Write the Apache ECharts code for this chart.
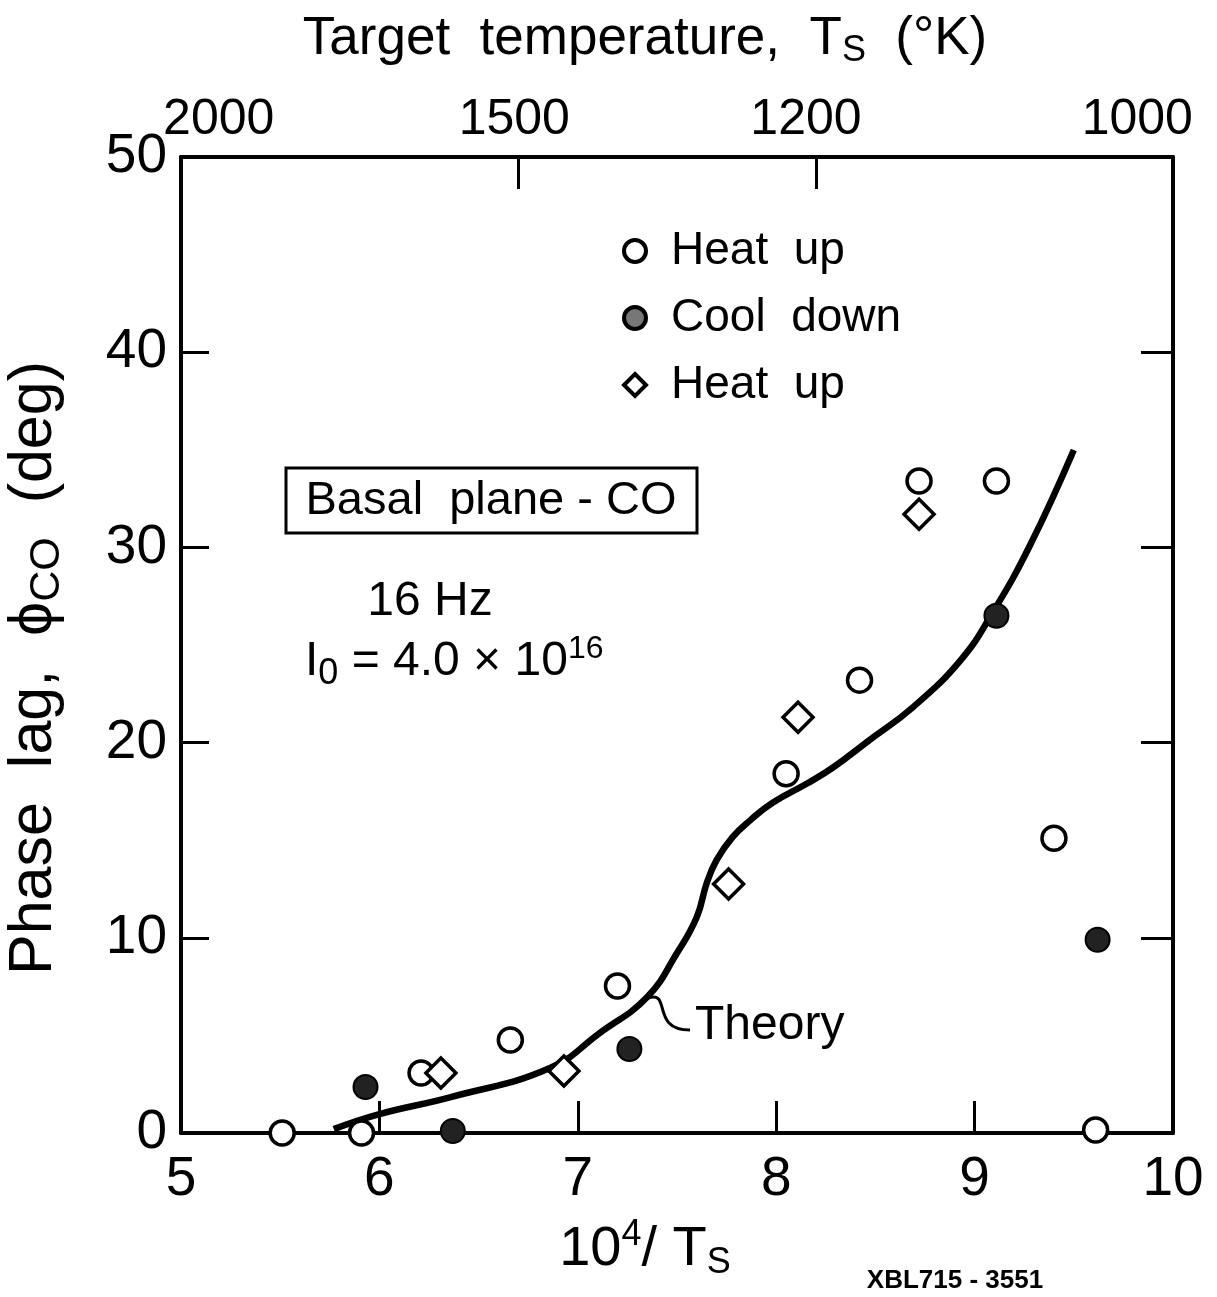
<!DOCTYPE html>
<html><head><meta charset="utf-8">
<script src="https://cdn.jsdelivr.net/npm/echarts@6/dist/echarts.min.js"></script>
<style>html,body{margin:0;padding:0;background:#fff}#c{width:1217px;height:1297px}</style>
</head><body><div id="c"></div>
<script>
// ---- data ----
const xTickValues = [5, 6, 7, 8, 9, 10];
const yTickValues = [0, 10, 20, 30, 40, 50];
const topTickLabels = ['2000', '1500', '1200', '1000'];
const topLabelPos = [5.19, 6.68, 8.15, 9.82];
const topTickPos = [6.70, 8.20];
const seriesNames = ['Heat  up', 'Cool  down', 'Heat  up '];
const heatUpCircle = [[5.51,0],[5.91,0],[6.21,3.07],[6.66,4.76],[7.20,7.53],[8.05,18.4],[8.42,23.2],[8.72,33.4],[9.11,33.4],[9.40,15.1],[9.61,0.15]];
const coolDown = [[5.93,2.36],[6.37,0.1],[7.26,4.3],[9.11,26.5],[9.62,9.9]];
const heatUpDiamond = [[6.31,3.07],[6.93,3.18],[7.76,12.76],[8.11,21.3],[8.72,31.7]];
const theory = [[5.77,0.2],[6.00,0.97],[6.36,1.84],[6.86,3.33],[7.11,5.12],[7.35,6.97],[7.50,9.22],[7.60,11.07],[7.65,12.81],[7.70,13.99],[7.78,15.16],[7.87,16.03],[7.98,16.91],[8.16,17.93],[8.29,18.75],[8.47,20.13],[8.69,21.82],[8.93,24.23],[9.09,26.64],[9.28,30.12],[9.50,34.99]];

// top (temperature) axis: a fine category grid spanning the same 5..10 range,
// so ticks and labels can sit at the positions
const topSteps = 500;
const topCats = [];
for (let i = 0; i <= topSteps; i++) topCats.push((5 + i / 100).toFixed(2));
const topTickIdx = topTickPos.map(p => Math.round((p - 5) * 100));
const topLabelIdx = topLabelPos.map(p => Math.round((p - 5) * 100));

const FONT = 'Liberation Sans';
const chart = echarts.init(document.getElementById('c'), null, {renderer: 'canvas'});
const axisLine = {show: true, onZero: false, lineStyle: {color: '#000', width: 4}};
const tickStyle = {color: '#000', width: 3};

chart.setOption({
  backgroundColor: '#fff',
  animation: false,
  grid: {left: 181, right: 44, top: 157, bottom: 164, containLabel: false, outerBoundsMode: 'none'},
  xAxis: [{
    type: 'value', position: 'bottom', min: xTickValues[0], max: xTickValues[xTickValues.length-1], interval: 1,
    axisLine: axisLine,
    axisTick: {inside: true, length: 32, lineStyle: tickStyle},
    splitLine: {show: false},
    axisLabel: {fontSize: 55, color: '#000', fontFamily: FONT, margin: 19},
    name: '{a|10}{sup|4}{a|/ T}{sub|S}', nameLocation: 'middle', nameGap: 84,
    nameTextStyle: {padding: [0, 64, 0, 0], rich: {
      a: {fontSize: 56, fontFamily: FONT, color: '#000'},
      sup: {fontSize: 36, fontFamily: FONT, color: '#000', padding: [0,0,30,0]},
      sub: {fontSize: 36, fontFamily: FONT, color: '#000', padding: [26,0,0,0]}
    }}
  }, {
    type: 'category', position: 'top', data: topCats, boundaryGap: false,
    axisLine: axisLine,
    axisTick: {inside: true, length: 32, lineStyle: tickStyle,
      interval: function (idx) { return topTickIdx.indexOf(idx) >= 0; }},
    splitLine: {show: false},
    axisLabel: {fontSize: 50, color: '#000', fontFamily: FONT, margin: 12,
      interval: function (idx) { return topLabelIdx.indexOf(idx) >= 0; },
      formatter: function (v, idx) {
        const i = topLabelIdx.indexOf(idx);
        return i >= 0 ? topTickLabels[i] : '';
      }},
    name: '{a|Target  temperature,  T}{sub|S}{a|  (°K)}', nameLocation: 'middle', nameGap: 88,
    nameTextStyle: {padding: [0, 64, 0, 0], rich: {
      a: {fontSize: 53, fontFamily: FONT, color: '#000'},
      sub: {fontSize: 36, fontFamily: FONT, color: '#000', padding: [24,0,0,0]}
    }}
  }],
  yAxis: [{
    type: 'value', position: 'left', min: yTickValues[0], max: yTickValues[yTickValues.length-1], interval: 10,
    axisLine: axisLine,
    axisTick: {inside: true, length: 28, lineStyle: tickStyle},
    splitLine: {show: false},
    axisLabel: {fontSize: 55, color: '#000', fontFamily: FONT, margin: 14},
    name: '{a|Phase  lag,  ϕ}{sub|CO}{a|  (deg)}', nameLocation: 'middle', nameGap: 112,
    nameTextStyle: {padding: [0, 46, 0, 0], rich: {
      a: {fontSize: 61, fontFamily: FONT, color: '#000'},
      sub: {fontSize: 43, fontFamily: FONT, color: '#000', padding: [27,0,0,0]}
    }}
  }, {
    type: 'value', position: 'right', min: 0, max: 50, interval: 10,
    axisLine: axisLine,
    axisTick: {inside: true, length: 32, lineStyle: tickStyle},
    splitLine: {show: false},
    axisLabel: {show: false}
  }],
  legend: {
    orient: 'vertical', left: 617, top: 223, itemGap: 21, itemWidth: 22, itemHeight: 22,
    textStyle: {fontSize: 46, fontFamily: FONT, color: '#000', padding: [0, 0, 0, 20]},
    selectedMode: false,
    data: [
      {name: seriesNames[0], icon: 'circle', itemStyle: {color: '#fff', borderColor: '#000', borderWidth: 4}},
      {name: seriesNames[1], icon: 'circle', itemStyle: {color: '#777', borderColor: '#000', borderWidth: 4}},
      {name: seriesNames[2], icon: 'diamond', itemStyle: {color: '#fff', borderColor: '#000', borderWidth: 4}}
    ]
  },
  series: [{
    name: 'Theory', type: 'line', data: theory, showSymbol: false, symbol: 'none',
    smooth: 0.45, lineStyle: {color: '#000', width: 6.5}, z: 3
  }, {
    name: seriesNames[0], type: 'scatter', data: heatUpCircle, symbol: 'circle', symbolSize: 24,
    itemStyle: {color: '#fff', borderColor: '#000', borderWidth: 3.5, opacity: 1}, z: 4
  }, {
    name: seriesNames[1], type: 'scatter', data: coolDown, symbol: 'circle', symbolSize: 24,
    itemStyle: {color: '#222', borderColor: '#000', borderWidth: 2, opacity: 1}, z: 4
  }, {
    name: seriesNames[2], type: 'scatter', data: heatUpDiamond, symbol: 'diamond', symbolSize: 30,
    itemStyle: {color: '#fff', borderColor: '#000', borderWidth: 3.5, opacity: 1}, z: 4
  }],
  graphic: [
    {type: 'rect', shape: {x: 286, y: 468, width: 411, height: 65}, style: {fill: 'none', stroke: '#000', lineWidth: 3}},
    {type: 'text', x: 491, y: 501, style: {text: 'Basal  plane - CO', fontSize: 47, fontFamily: FONT, fill: '#000', align: 'center', verticalAlign: 'middle'}},
    {type: 'text', x: 430, y: 602, style: {text: '16 Hz', fontSize: 48, fontFamily: FONT, fill: '#000', align: 'center', verticalAlign: 'middle'}},
    {type: 'text', x: 305, y: 662, style: {
      text: '{a|I}{sub|0}{a| = 4.0 × 10}{sup|16}', align: 'left', verticalAlign: 'middle',
      rich: {
        a: {fontSize: 48, fontFamily: FONT, fill: '#000'},
        sub: {fontSize: 36, fontFamily: FONT, fill: '#000', padding: [24,0,0,0]},
        sup: {fontSize: 32, fontFamily: FONT, fill: '#000', padding: [0,0,26,0]}
      }}},
    {type: 'text', x: 695, y: 1026, style: {text: 'Theory', fontSize: 48, fontFamily: FONT, fill: '#000', align: 'left', verticalAlign: 'middle'}},
    {type: 'bezierCurve', shape: {x1: 648, y1: 998, cpx1: 672, cpy1: 990, cpx2: 650, cpy2: 1030, x2: 690, y2: 1030}, style: {fill: 'none', stroke: '#000', lineWidth: 3}},
    {type: 'text', x: 955, y: 1281, style: {text: 'XBL715 - 3551', fontSize: 26, fontWeight: 'bold', fontFamily: FONT, fill: '#000', align: 'center', verticalAlign: 'middle'}}
  ]
});
</script>
</body></html>
